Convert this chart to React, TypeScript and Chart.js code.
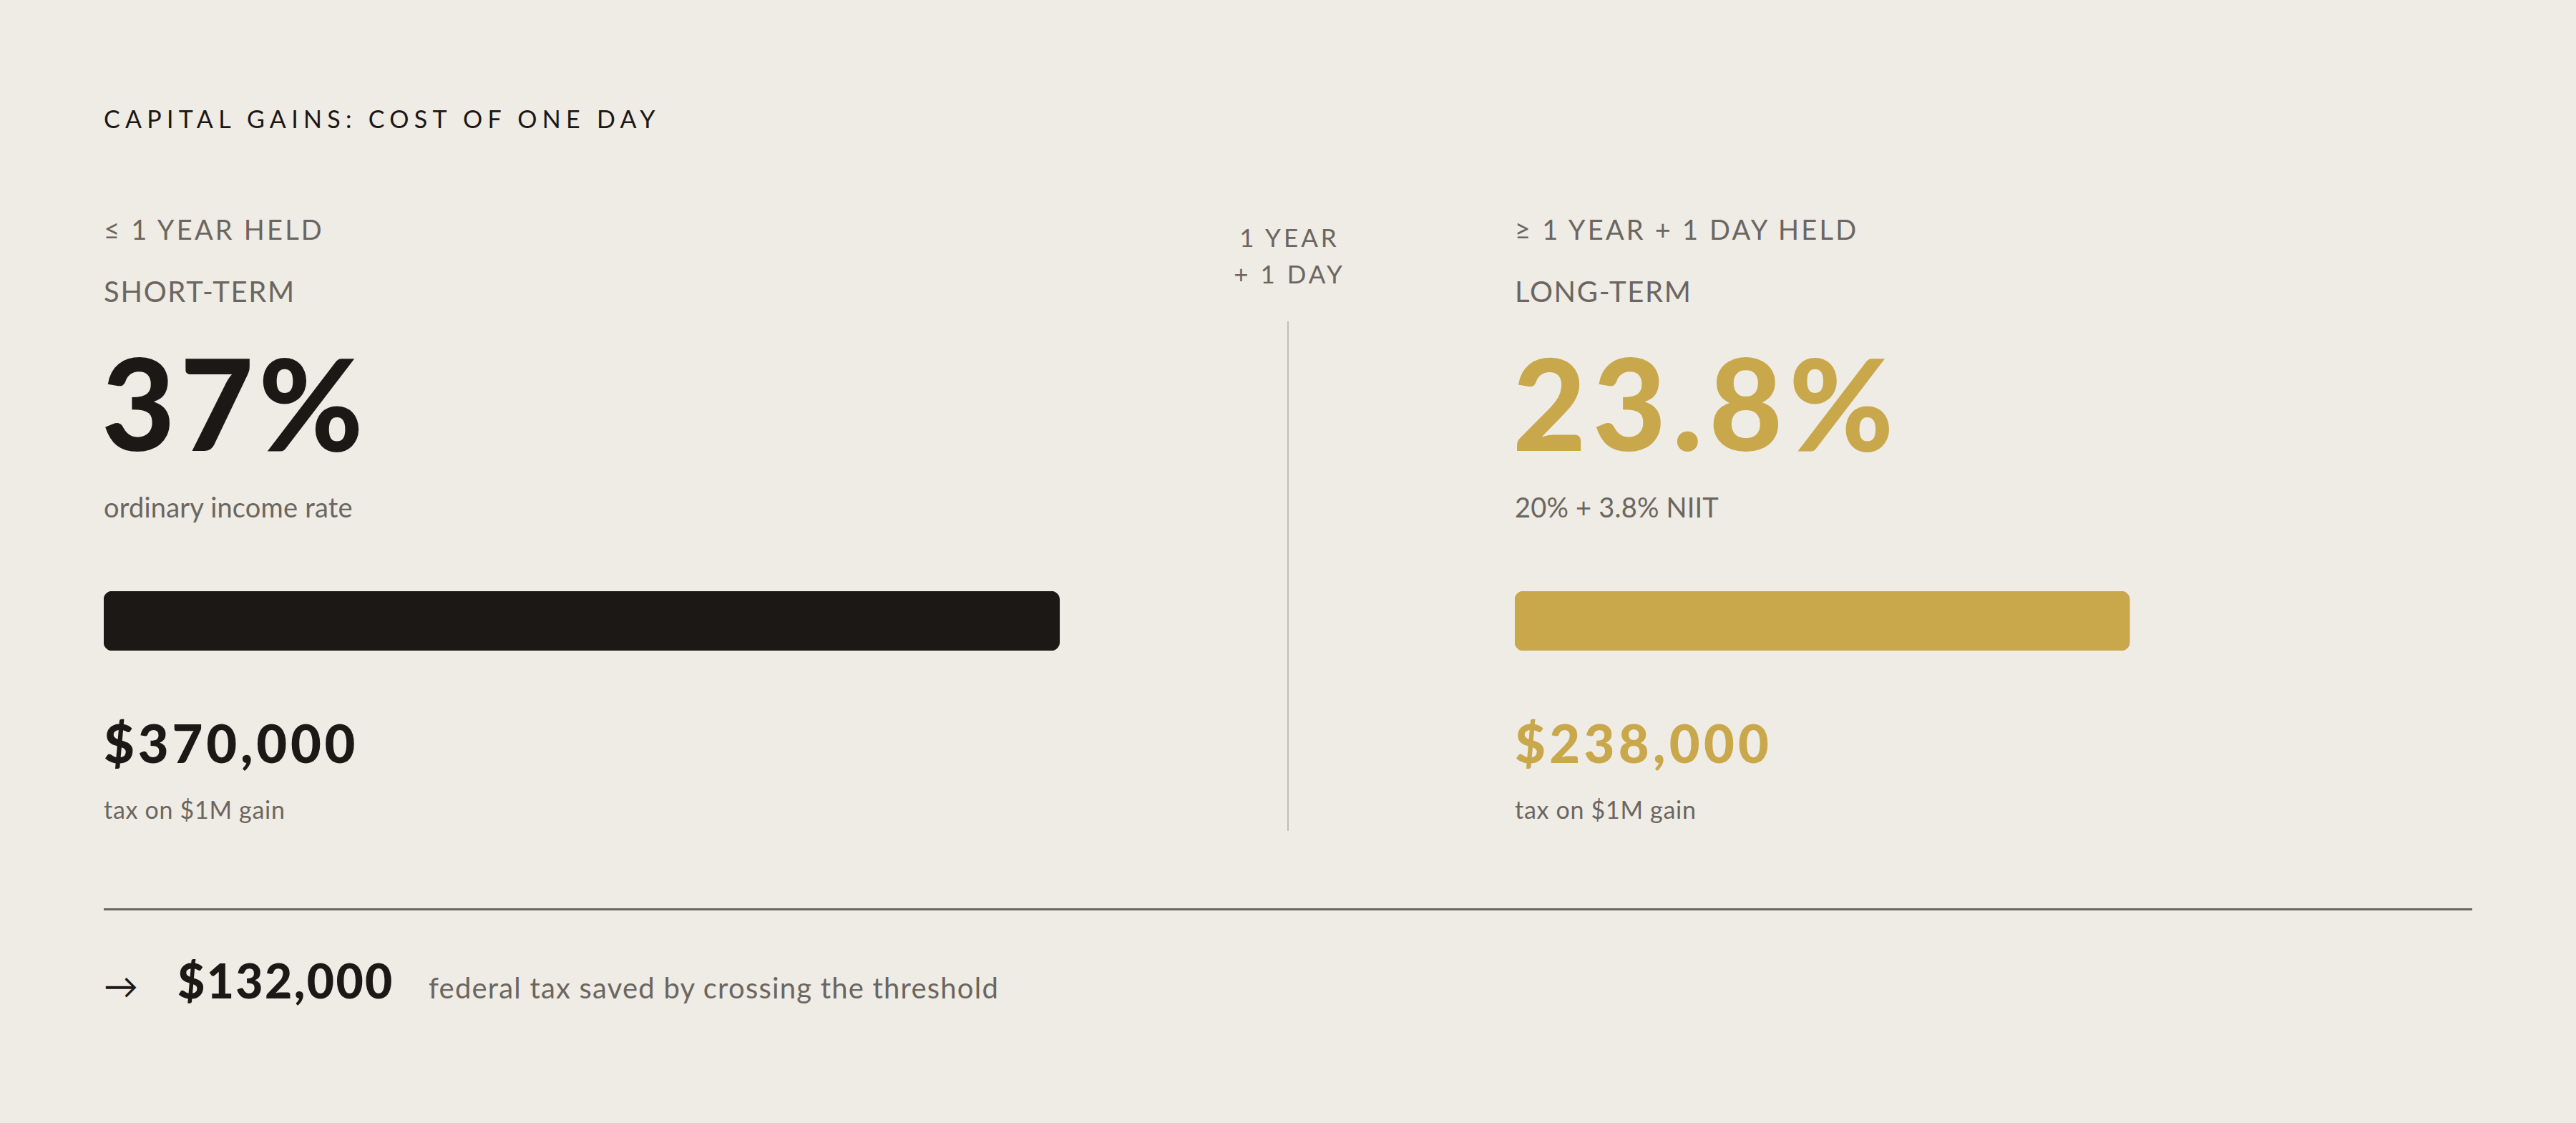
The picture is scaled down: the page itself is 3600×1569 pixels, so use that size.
import React, { useEffect, useRef } from 'react';
import { Chart, registerables } from 'chart.js';

Chart.register(...registerables);

// ---- data ----
const titleText = 'CAPITAL GAINS: COST OF ONE DAY';
const categories = ['SHORT-TERM', 'LONG-TERM'];
const holdLabels = ['≤ 1 YEAR HELD', '≥ 1 YEAR + 1 DAY HELD'];
const rateNotes = ['ordinary income rate', '20% + 3.8% NIIT'];
const rates = [37, 23.8];
const taxes = [370000, 238000];
const taxNote = 'tax on $1M gain';
const thresholdLines = ['1 YEAR', '+ 1 DAY'];
const savedAmount = 132000;
const savedNote = 'federal tax saved by crossing the threshold';
const axisMax = 40;

// ---- styles ----
const BG = '#efebe5';
const DARK = '#1c1815';
const GOLD = '#c9a74b';
const GRAY = '#6b665f';
const barColors = [DARK, GOLD];
const FONT = 'Lato, "Noto Sans", sans-serif';
const colX = [145, 2117];
const bigLs = [7, 9];
const moneyLs = [4.8, 5.3];

const fmtMoney = (v: number) => '$' + v.toLocaleString('en-US');

let measureCtx: CanvasRenderingContext2D | null = null;
function baselineOffset(weight: number, fs: number): number {
  if (!measureCtx) measureCtx = document.createElement('canvas').getContext('2d');
  const ctx = measureCtx!;
  ctx.font = `${weight} ${fs}px ${FONT}`;
  const m = ctx.measureText('H');
  const asc = (m as any).fontBoundingBoxAscent ?? fs * 0.987;
  const desc = (m as any).fontBoundingBoxDescent ?? fs * 0.213;
  return (fs - (asc + desc)) / 2 + asc;
}

type TProps = {
  x: number;
  y: number;
  fs: number;
  weight?: number;
  color?: string;
  ls?: number;
  center?: boolean;
  children: React.ReactNode;
};

function T({ x, y, fs, weight = 400, color = GRAY, ls = 0, center = false, children }: TProps) {
  const off = baselineOffset(weight, fs);
  return (
    <div
      style={{
        position: 'absolute',
        left: x,
        top: y - off,
        fontFamily: FONT,
        fontSize: fs,
        lineHeight: `${fs}px`,
        fontWeight: weight,
        color,
        letterSpacing: ls,
        whiteSpace: 'nowrap',
        transform: center ? 'translateX(-50%)' : undefined,
        paddingLeft: center ? ls : 0,
      }}
    >
      {children}
    </div>
  );
}

function RateBar({ idx, left }: { idx: number; left: number }) {
  const ref = useRef<HTMLCanvasElement>(null);
  useEffect(() => {
    const chart = new Chart(ref.current!, {
      type: 'bar',
      data: {
        labels: [categories[idx]],
        datasets: [
          {
            data: [rates[idx]],
            backgroundColor: barColors[idx],
            borderRadius: 12,
            borderSkipped: false,
            barPercentage: 1,
            categoryPercentage: 1,
          },
        ],
      },
      options: {
        indexAxis: 'y',
        responsive: false,
        animation: false,
        devicePixelRatio: 1,
        layout: { padding: 0 },
        plugins: { legend: { display: false }, tooltip: { enabled: false } },
        scales: {
          x: { display: false, min: 0, max: axisMax },
          y: { display: false },
        },
      },
    });
    return () => chart.destroy();
  }, [idx]);
  return (
    <canvas
      ref={ref}
      width={1444}
      height={83}
      style={{ position: 'absolute', left, top: 826, width: 1444, height: 83 }}
    />
  );
}

export default function App() {
  const rateColors = [DARK, GOLD];
  return (
    <div
      style={{
        position: 'absolute',
        left: 0,
        top: 0,
        width: 3600,
        height: 1569,
        background: BG,
        overflow: 'hidden',
      }}
    >
      <T x={145} y={179} fs={34} color={DARK} ls={7.3}>
        {titleText}
      </T>

      {[0, 1].map((i) => (
        <React.Fragment key={i}>
          <T x={colX[i]} y={335} fs={38} ls={3.2}>
            {holdLabels[i]}
          </T>
          <T x={colX[i]} y={422} fs={40} ls={1.7}>
            {categories[i]}
          </T>
          <T x={colX[i] - 3} y={630} fs={177} weight={900} color={rateColors[i]} ls={bigLs[i]}>
            {rates[i] + '%'}
          </T>
          <T x={colX[i]} y={723} fs={38} ls={0.2}>
            {rateNotes[i]}
          </T>
          <RateBar idx={i} left={colX[i]} />
          <T x={colX[i]} y={1066} fs={74} weight={900} color={rateColors[i]} ls={moneyLs[i]}>
            {fmtMoney(taxes[i])}
          </T>
          <T x={colX[i]} y={1144} fs={34} ls={0.7}>
            {taxNote}
          </T>
        </React.Fragment>
      ))}

      <T x={1800} y={345} fs={35} ls={4} center>
        {thresholdLines[0]}
      </T>
      <T x={1800} y={396} fs={35} ls={4} center>
        {thresholdLines[1]}
      </T>
      <div style={{ position: 'absolute', left: 1799, top: 449, width: 2, height: 712, background: '#c2bdb5' }} />

      <div style={{ position: 'absolute', left: 145, top: 1269, width: 3310, height: 3, background: GRAY }} />

      <T x={145} y={1395} fs={48} color={DARK}>
        →
      </T>
      <T x={248} y={1395} fs={66} weight={900} color={DARK} ls={2.4}>
        {fmtMoney(savedAmount)}
      </T>
      <T x={599} y={1395} fs={40} ls={1.2}>
        {savedNote}
      </T>
    </div>
  );
}
